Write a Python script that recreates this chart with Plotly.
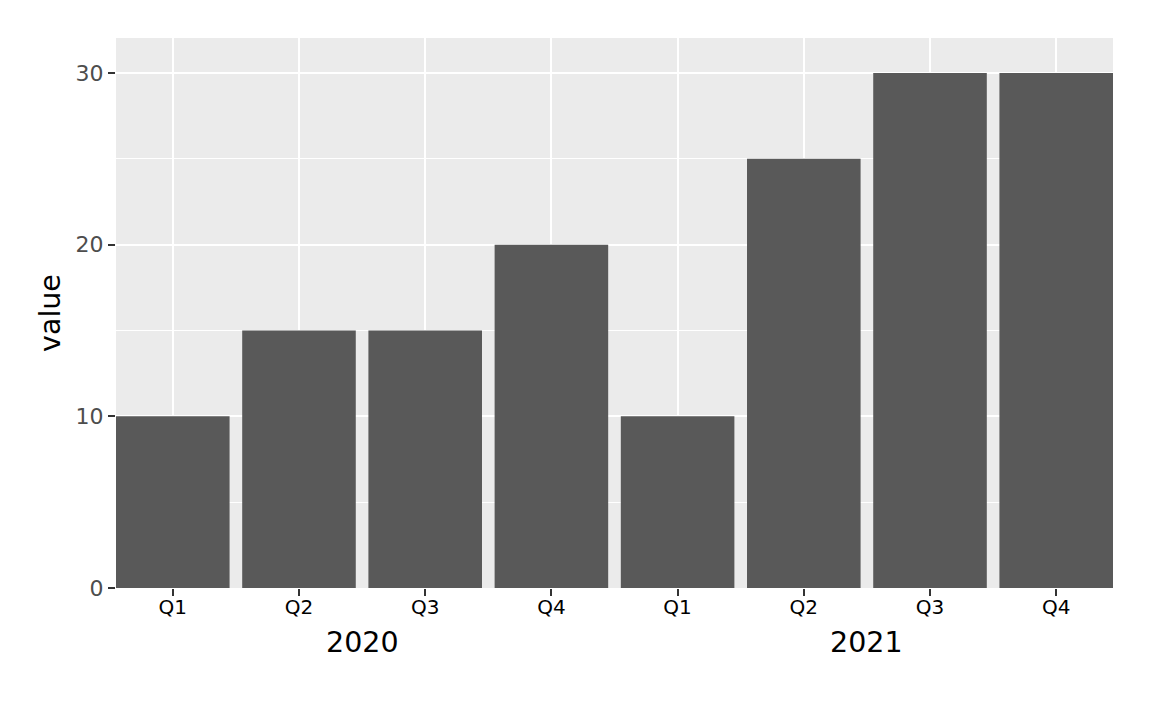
import plotly.graph_objects as go

years = ["2020", "2020", "2020", "2020", "2021", "2021", "2021", "2021"]
quarters = ["Q1", "Q2", "Q3", "Q4", "Q1", "Q2", "Q3", "Q4"]
values = [10, 15, 15, 20, 10, 25, 30, 30]

idx = list(range(len(values)))

fig = go.Figure()
fig.add_trace(go.Bar(
    x=idx, y=values,
    marker=dict(color="#595959", line=dict(width=0)),
    width=0.9,
    showlegend=False,
    hoverinfo="skip",
))

# group labels (years) centred under their quarters
for yr in sorted(set(years)):
    pos = [i for i, y in zip(idx, years) if y == yr]
    fig.add_annotation(
        x=sum(pos) / len(pos), y=0, xref="x", yref="paper",
        text=yr, showarrow=False, yanchor="middle", yshift=-54,
        font=dict(family="DejaVu Sans", size=28.5, color="black"),
    )

fig.update_layout(
    width=1152, height=711,
    margin=dict(l=108, r=47, t=30, b=131, autoexpand=False),
    paper_bgcolor="white",
    plot_bgcolor="#EBEBEB",
    font=dict(family="DejaVu Sans"),
    xaxis=dict(
        range=[-0.45, 7.45],
        tickmode="array", tickvals=idx, ticktext=quarters,
        showgrid=True, gridcolor="white", gridwidth=2.2,
        ticks="outside", ticklen=7, tickwidth=2, tickcolor="#333333",
        tickfont=dict(size=20, color="black"),
        ticklabelstandoff=-6,
        zeroline=False, showline=False,
    ),
    yaxis=dict(
        range=[0, 32.04],
        tickmode="array", tickvals=[0, 10, 20, 30],
        showgrid=True, gridcolor="white", gridwidth=2.2,
        minor=dict(tickvals=[5, 15, 25], showgrid=True, gridcolor="white", gridwidth=1.1, ticks=""),
        ticks="outside", ticklen=7, tickwidth=2, tickcolor="#333333",
        tickfont=dict(size=22, color="#4D4D4D"),
        zeroline=False, showline=False,
        title=dict(text="value", font=dict(size=28.5, color="black"), standoff=6),
    ),
)

fig.write_html("out.html")
